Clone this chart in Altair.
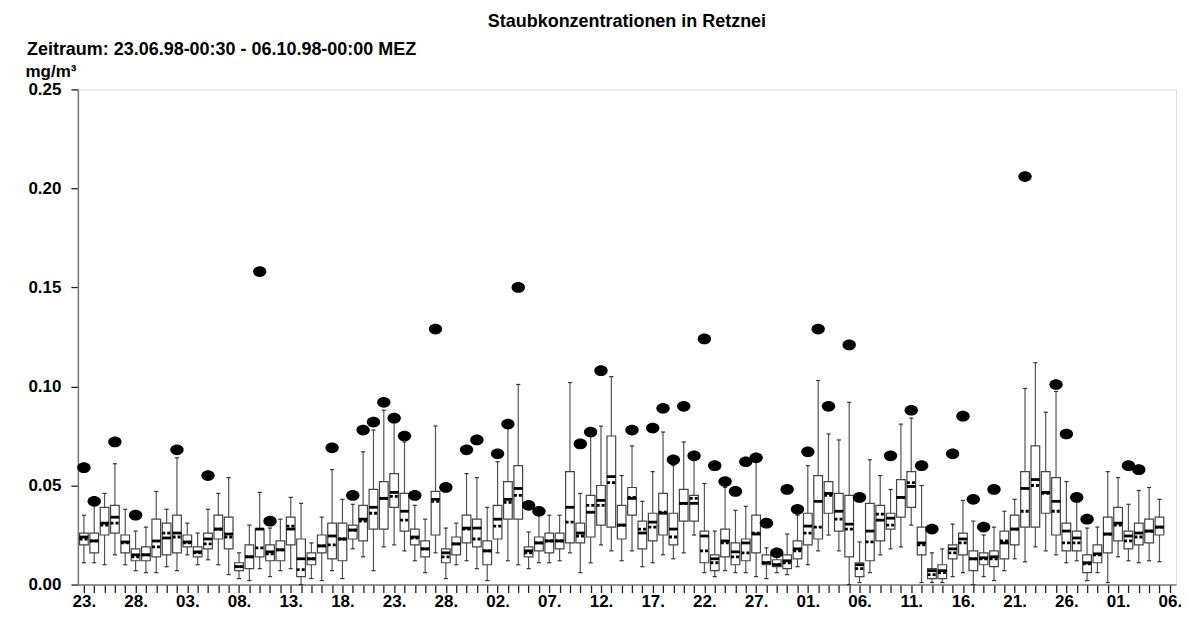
import altair as alt
import pandas as pd

title_text = "Staubkonzentrationen in Retznei"
period_text = "Zeitraum: 23.06.98-00:30 - 06.10.98-00:00 MEZ"
unit_text = "mg/m³"

# tick labels for every 5th day, starting 23.06.98
tick_labels = ["23.", "28.", "03.", "08.", "13.", "18.", "23.", "28.", "02.", "07.", "12.",
               "17.", "22.", "27.", "01.", "06.", "11.", "16.", "21.", "26.", "01.", "06."]

# day index (0 = 23.06.98)
days = list(range(105))

w_lo = [0.011, 0.011, 0.010, 0.015, 0.010, 0.007, 0.006, 0.006, 0.009, 0.007,
        0.015, 0.010, 0.0125, 0.010, 0.005, 0.003, 0.002, 0.008, 0.004, 0.007,
        0.008, 0.0, 0.003, 0.002, 0.007, 0.003, 0.018, 0.014, 0.007, 0.019,
        0.020, 0.017, 0.012, 0.006, 0.016, 0.003, 0.010, 0.012, 0.008, 0.002,
        0.016, 0.012, 0.010, 0.008, 0.011, 0.011, 0.012, 0.016, 0.006, 0.011,
        0.020, 0.017, 0.012, 0.017, 0.009, 0.011, 0.015, 0.013, 0.016, 0.025,
        0.006, 0.004, 0.007, 0.006, 0.006, 0.004, 0.003, 0.006, 0.005, 0.009,
        0.010, 0.017, 0.025, 0.017, 0.0, 0.001, 0.006, 0.015, 0.018, 0.019,
        0.030, 0.001, 0.001, 0.001, 0.004, 0.006, 0.0, 0.004, 0.002, 0.007,
        0.013, 0.0115, 0.019, 0.017, 0.015, 0.011, 0.012, 0.002, 0.006, 0.001,
        0.014, 0.012, 0.011, 0.012, 0.0115]

q1 = [0.020, 0.016, 0.025, 0.026, 0.016, 0.012, 0.012, 0.014, 0.015, 0.016,
      0.019, 0.014, 0.018, 0.023, 0.018, 0.007, 0.008, 0.014, 0.012, 0.012,
      0.020, 0.004, 0.010, 0.016, 0.013, 0.012, 0.023, 0.022, 0.028, 0.028,
      0.039, 0.027, 0.020, 0.014, 0.025, 0.011, 0.015, 0.021, 0.019, 0.010,
      0.023, 0.033, 0.033, 0.014, 0.017, 0.016, 0.018, 0.021, 0.021, 0.024,
      0.030, 0.029, 0.023, 0.035, 0.018, 0.022, 0.025, 0.020, 0.032, 0.032,
      0.011, 0.007, 0.014, 0.010, 0.012, 0.016, 0.010, 0.009, 0.008, 0.013,
      0.020, 0.023, 0.036, 0.027, 0.014, 0.004, 0.012, 0.022, 0.028, 0.034,
      0.039, 0.015, 0.003, 0.003, 0.013, 0.015, 0.007, 0.010, 0.009, 0.013,
      0.020, 0.029, 0.029, 0.036, 0.025, 0.017, 0.017, 0.006, 0.011, 0.016,
      0.022, 0.018, 0.020, 0.021, 0.025]

median = [0.024, 0.022, 0.031, 0.034, 0.0215, 0.015, 0.015, 0.022, 0.0235, 0.026,
          0.0215, 0.0165, 0.023, 0.028, 0.0255, 0.009, 0.014, 0.028, 0.0165, 0.0175,
          0.028, 0.013, 0.013, 0.0195, 0.0245, 0.023, 0.0275, 0.033, 0.039, 0.0435,
          0.0465, 0.037, 0.024, 0.018, 0.043, 0.016, 0.0205, 0.0285, 0.0285, 0.017,
          0.033, 0.043, 0.0485, 0.017, 0.021, 0.022, 0.022, 0.039, 0.026, 0.0365,
          0.0425, 0.0545, 0.030, 0.0435, 0.026, 0.0315, 0.036, 0.028, 0.041, 0.041,
          0.0245, 0.013, 0.022, 0.0165, 0.021, 0.0255, 0.011, 0.010, 0.012, 0.018,
          0.0295, 0.042, 0.046, 0.037, 0.0305, 0.010, 0.027, 0.0325, 0.0335, 0.044,
          0.0495, 0.021, 0.007, 0.007, 0.018, 0.023, 0.013, 0.0135, 0.014, 0.021,
          0.028, 0.0485, 0.053, 0.0465, 0.042, 0.027, 0.0235, 0.011, 0.0155, 0.0255,
          0.031, 0.0245, 0.026, 0.027, 0.029]

mean = [0.023, 0.022, 0.030, 0.031, 0.021, 0.014, 0.015, 0.019, 0.026, 0.024,
        0.021, 0.016, 0.0205, 0.028, 0.024, 0.009, 0.014, 0.0185, 0.0155, 0.0175,
        0.0295, 0.0075, 0.013, 0.0195, 0.020, 0.023, 0.0275, 0.032, 0.036, 0.0435,
        0.0445, 0.0325, 0.0235, 0.018, 0.042, 0.014, 0.0205, 0.028, 0.023, 0.017,
        0.0295, 0.0415, 0.045, 0.016, 0.021, 0.022, 0.022, 0.0315, 0.0245, 0.040,
        0.040, 0.0515, 0.030, 0.044, 0.028, 0.029, 0.0365, 0.024, 0.041, 0.0435,
        0.017, 0.011, 0.021, 0.014, 0.016, 0.026, 0.011, 0.010, 0.011, 0.017,
        0.026, 0.029, 0.045, 0.033, 0.028, 0.008, 0.0215, 0.0355, 0.030, 0.044,
        0.0515, 0.020, 0.005, 0.006, 0.016, 0.021, 0.013, 0.013, 0.013, 0.022,
        0.028, 0.037, 0.050, 0.046, 0.037, 0.021, 0.021, 0.0105, 0.015, 0.0255,
        0.030, 0.022, 0.024, 0.027, 0.029]

q3 = [0.026, 0.026, 0.039, 0.040, 0.025, 0.018, 0.019, 0.033, 0.031, 0.035,
      0.025, 0.019, 0.026, 0.035, 0.034, 0.011, 0.020, 0.028, 0.020, 0.022,
      0.034, 0.023, 0.016, 0.025, 0.031, 0.031, 0.030, 0.040, 0.048, 0.052,
      0.056, 0.046, 0.028, 0.022, 0.047, 0.018, 0.024, 0.035, 0.033, 0.022,
      0.040, 0.052, 0.060, 0.019, 0.024, 0.026, 0.026, 0.057, 0.031, 0.045,
      0.050, 0.075, 0.040, 0.049, 0.032, 0.036, 0.046, 0.036, 0.048, 0.045,
      0.027, 0.015, 0.028, 0.021, 0.023, 0.035, 0.015, 0.0125, 0.015, 0.022,
      0.036, 0.055, 0.052, 0.046, 0.045, 0.011, 0.041, 0.040, 0.036, 0.053,
      0.057, 0.029, 0.008, 0.010, 0.020, 0.026, 0.017, 0.016, 0.017, 0.027,
      0.035, 0.057, 0.070, 0.057, 0.054, 0.031, 0.027, 0.015, 0.020, 0.034,
      0.039, 0.027, 0.031, 0.033, 0.034]

w_hi = [0.035, 0.040, 0.046, 0.061, 0.038, 0.027, 0.029, 0.047, 0.038, 0.064,
        0.031, 0.026, 0.038, 0.046, 0.054, 0.016, 0.030, 0.0465, 0.0285, 0.033,
        0.044, 0.041, 0.021, 0.034, 0.058, 0.043, 0.0405, 0.067, 0.078, 0.088,
        0.082, 0.072, 0.040, 0.033, 0.080, 0.0285, 0.031, 0.056, 0.054, 0.039,
        0.062, 0.080, 0.101, 0.0265, 0.035, 0.035, 0.035, 0.102, 0.046, 0.075,
        0.080, 0.105, 0.055, 0.070, 0.042, 0.057, 0.077, 0.060, 0.072, 0.063,
        0.051, 0.027, 0.049, 0.0375, 0.0395, 0.062, 0.0185, 0.016, 0.0255, 0.035,
        0.060, 0.103, 0.076, 0.073, 0.092, 0.0215, 0.063, 0.055, 0.048, 0.081,
        0.084, 0.050, 0.016, 0.018, 0.0305, 0.0425, 0.032, 0.025, 0.029, 0.037,
        0.043, 0.099, 0.112, 0.087, 0.0975, 0.052, 0.046, 0.0285, 0.029, 0.057,
        0.054, 0.0405, 0.0475, 0.049, 0.043]

N = None
maxv = [0.059, 0.042, N, 0.072, N, 0.035, N, N, N, 0.068,
        N, N, 0.055, N, N, N, N, 0.158, 0.032, N,
        N, N, N, N, 0.069, N, 0.045, 0.078, 0.082, 0.092,
        0.084, 0.075, 0.045, N, 0.129, 0.049, N, 0.068, 0.073, N,
        0.066, 0.081, 0.150, 0.040, 0.037, N, N, N, 0.071, 0.077,
        0.108, N, N, 0.078, N, 0.079, 0.089, 0.063, 0.090, 0.065,
        0.124, 0.060, 0.052, 0.047, 0.062, 0.064, 0.031, 0.016, 0.048, 0.038,
        0.067, 0.129, 0.090, N, 0.121, 0.044, N, N, 0.065, N,
        0.088, 0.060, 0.028, N, 0.066, 0.085, 0.043, 0.029, 0.048, N,
        N, 0.206, N, N, 0.101, 0.076, 0.044, 0.033, N, N,
        N, 0.060, 0.058, N, N]

df = pd.DataFrame({"day": days, "w_lo": w_lo, "q1": q1, "median": median,
                   "mean": mean, "q3": q3, "w_hi": w_hi, "maxv": maxv})

FONT = "Liberation Sans"
label_js = "[" + ",".join("'%s'" % t for t in tick_labels) + "]"

xscale = alt.Scale(domain=[-0.58, 105.6], nice=False, zero=False)
xaxis = alt.Axis(values=list(range(106)), title=None, grid=False,
                 labelExpr="datum.value % 5 == 0 ? " + label_js + "[datum.value / 5] : ''",
                 labelOverlap=False, labelFlush=False, labelBound=False,
                 tickSize=8, tickWidth=1.3, tickColor="#222",
                 domainColor="#777", domainWidth=1.5,
                 labelFont=FONT, labelFontSize=17, labelFontWeight="bold",
                 labelColor="black", labelPadding=1)
yscale = alt.Scale(domain=[0, 0.25], nice=False, zero=True)
yaxis = alt.Axis(values=[0, 0.05, 0.10, 0.15, 0.20, 0.25], format=".2f", grid=False,
                 title=unit_text, titleAngle=0, titleX=-53, titleY=-13,
                 titleAlign="left", titleBaseline="alphabetic",
                 titleFont=FONT, titleFontSize=17, titleFontWeight="bold", titleColor="black",
                 tickSize=7, tickWidth=1.3, tickColor="#222",
                 domainColor="#777", domainWidth=1.5,
                 labelFont=FONT, labelFontSize=17, labelFontWeight="bold",
                 labelColor="black", labelPadding=10)


def X(f):
    return alt.X(f, type="quantitative", scale=xscale, axis=xaxis)


def Y(f):
    return alt.Y(f, type="quantitative", scale=yscale, axis=yaxis)


base = alt.Chart(df).transform_calculate(
    xl="datum.day - 0.42", xr="datum.day + 0.42",
    cl="datum.day - 0.2", cr="datum.day + 0.2")

whisk = base.mark_rule(color="#555", strokeWidth=1.2).encode(
    x=X("day"), y=Y("w_lo"), y2="w_hi")
cap_lo = base.mark_rule(color="#333", strokeWidth=1.2).encode(
    x=X("cl"), x2="cr", y=Y("w_lo"))
cap_hi = base.mark_rule(color="#333", strokeWidth=1.2).encode(
    x=X("cl"), x2="cr", y=Y("w_hi"))
box = base.mark_rect(fill="white", stroke="#444", strokeWidth=1.2).encode(
    x=X("xl"), x2="xr", y=Y("q1"), y2="q3")
mean_l = base.mark_rule(color="black", strokeWidth=2.8, strokeDash=[3, 2]).encode(
    x=X("xl"), x2="xr", y=Y("mean"))
med_l = base.mark_rule(color="black", strokeWidth=2.8).encode(
    x=X("xl"), x2="xr", y=Y("median"))

ellipse = ("M-1,0 C-1,-0.442 -0.552,-0.8 0,-0.8 C0.552,-0.8 1,-0.442 1,0 "
           "C1,0.442 0.552,0.8 0,0.8 C-0.552,0.8 -1,0.442 -1,0 Z")
dots = base.transform_filter("isValid(datum.maxv)").mark_point(
    shape=ellipse, size=180, filled=True, color="black", opacity=1, strokeWidth=0).encode(
    x=X("day"), y=Y("maxv"))

title_mark = alt.Chart(alt.Data(values=[{"t": title_text}])).mark_text(
    font=FONT, fontSize=18, fontWeight="bold", color="black",
    align="center", baseline="alphabetic").encode(
    x=alt.value(550), y=alt.value(-62), text="t:N")
period_mark = alt.Chart(alt.Data(values=[{"t": period_text}])).mark_text(
    font=FONT, fontSize=18, fontWeight="bold", color="black",
    align="left", baseline="alphabetic").encode(
    x=alt.value(-51), y=alt.value(-34), text="t:N")

chart = alt.layer(whisk, cap_lo, cap_hi, box, mean_l, med_l, dots,
                  title_mark, period_mark).properties(
    width=1100, height=496,
    padding={"left": 70, "top": 81, "right": 5, "bottom": 28},
    autosize=alt.AutoSizeParams(type="none"),
).configure_view(stroke=None).configure(background="white")

chart.save("out.html", embed_options={"renderer": "svg", "actions": False})
